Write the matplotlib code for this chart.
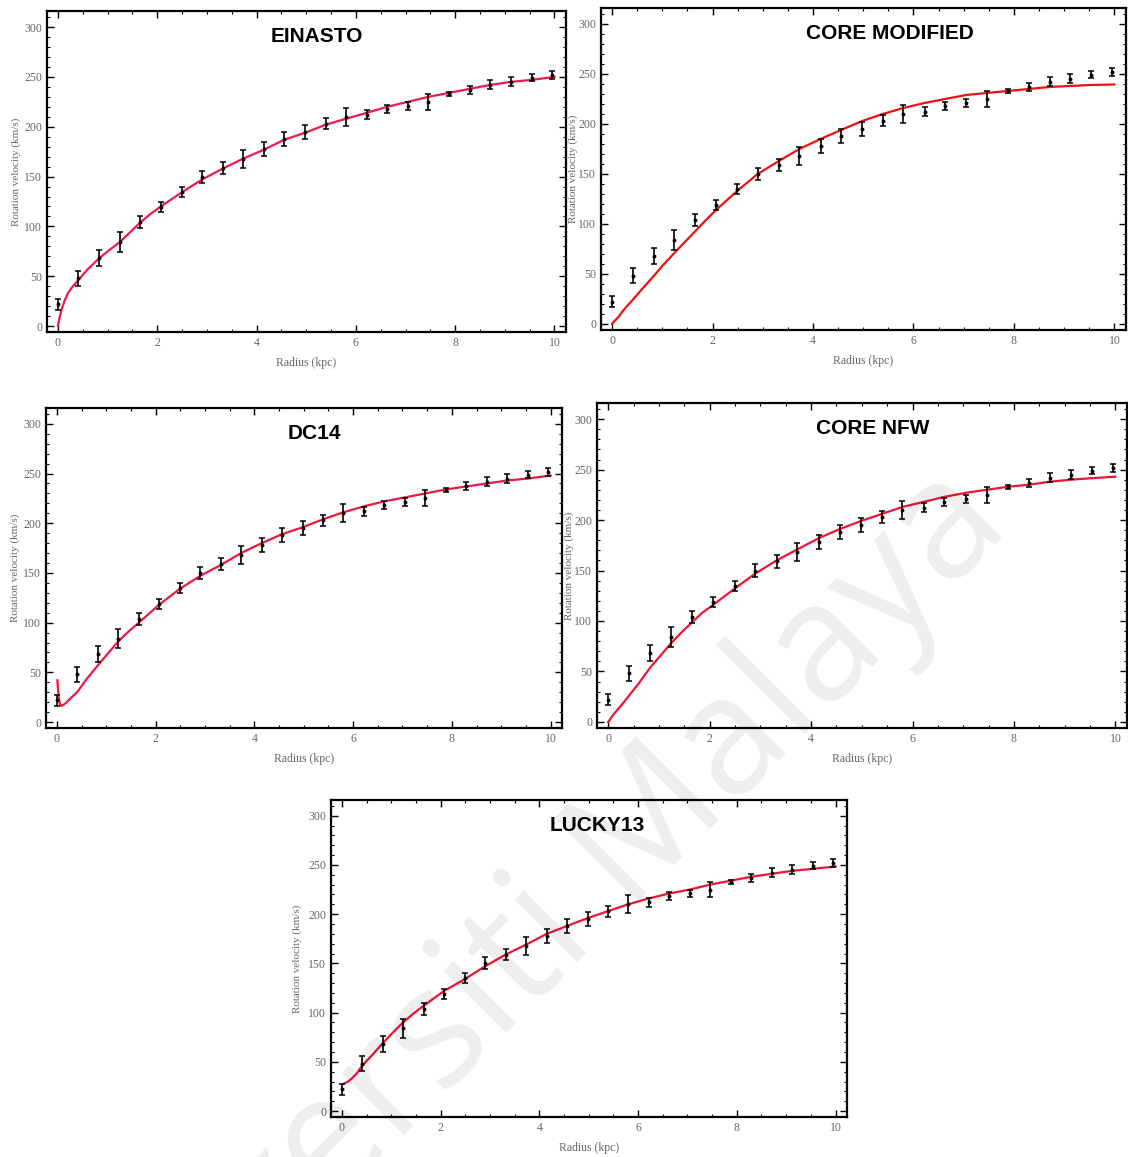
import matplotlib.pyplot as plt
from matplotlib.ticker import MultipleLocator

# Observed rotation curve (same for every panel)
RAYON = [0.0, 0.41, 0.83, 1.24, 1.66, 2.07, 2.49, 2.90, 3.32, 3.73, 4.15, 4.56, 4.98,
         5.39, 5.80, 6.22, 6.63, 7.05, 7.46, 7.88, 8.29, 8.71, 9.12, 9.54, 9.95]
VITESSE = [22, 48, 68, 84, 104, 119, 135, 150, 159, 168, 178, 188, 195,
           203, 210, 212, 218, 221, 225, 233, 237, 242, 245, 249, 252]
ERREUR = [5.5, 7.5, 8, 10, 6, 5, 5, 6, 6, 9, 7, 7, 7,
          5.5, 9, 4.5, 4, 4, 8, 2, 4, 4.5, 4.5, 3.5, 4]

# Best-fit model curves, sampled along the radius
FIT_X = [0.0, 0.03, 0.07, 0.13, 0.2, 0.3, 0.41, 0.6, 0.83, 1.0, 1.24, 1.45, 1.66, 1.85,
         2.07, 2.49, 2.90, 3.32, 3.73, 4.15, 4.56, 4.98, 5.39, 5.80, 6.22, 6.63,
         7.05, 7.46, 7.88, 8.29, 8.71, 9.12, 9.54, 10.0]
EINASTO = [0, 8, 16, 25, 33, 40, 46, 57, 68, 75, 84, 94, 104, 112,
           120, 134, 147, 158, 168, 177, 187, 194, 202, 208, 214, 220,
           225, 230, 234, 238, 242, 245, 247, 250]
CORE_MOD = [0, 2, 4, 7, 12, 18, 24, 35, 48, 58, 71, 82, 93, 103,
            114, 133, 150, 163, 175, 185, 194, 203, 210, 216, 221, 225,
            229, 231, 233, 235, 237, 238, 239, 239.5]
DC14_X = [0.01, 0.02, 0.04, 0.06, 0.08, 0.1, 0.14, 0.2, 0.3, 0.41, 0.6, 0.83, 1.0, 1.24,
          1.45, 1.66, 2.07, 2.49, 2.90, 3.32, 3.73, 4.15, 4.56, 4.98, 5.39, 5.80,
          6.22, 6.63, 7.05, 7.46, 7.88, 8.29, 8.71, 9.12, 9.54, 10.0]
DC14 = [42, 35, 24, 18.5, 16.5, 16.5, 17.5, 20, 25, 30, 43, 57, 67, 81,
        91, 100, 118, 134, 147, 158, 170, 180, 189, 196, 204, 211,
        217, 222, 226, 230, 234, 237, 240, 243, 245, 248]
CORE_NFW = [0, 2, 5, 9, 13, 19, 26, 38, 54, 64, 78, 89, 99, 108,
            116, 132, 147, 160, 171, 182, 191, 199, 206, 213, 218, 223,
            227, 230, 233, 235, 238, 240, 241.5, 243]
LUCKY13 = [27, 27.5, 28.5, 30, 33, 38, 46, 56, 69, 78, 90, 99, 107, 114,
           122, 134, 147, 159, 169, 180, 188, 196, 203, 210, 216, 221,
           225, 230, 234, 238, 241, 244, 246, 248.5]

PANNEAUX = [
    # titre, x fit, y fit, couleur, position axes, position titre, recul ylabel (px)
    ("EINASTO", FIT_X, EINASTO, "#ee1a4e", [0.0417, 0.713, 0.460, 0.2774], 0.52, 31),
    ("CORE MODIFIED", FIT_X, CORE_MOD, "#f01010", [0.5328, 0.7148, 0.4654, 0.2783], 0.55, 28),
    ("DC14", DC14_X, DC14, "#f01840", [0.0408, 0.3708, 0.4574, 0.2766], 0.52, 31),
    ("CORE NFW", FIT_X, CORE_NFW, "#f01434", [0.5293, 0.3708, 0.4699, 0.2809], 0.52, 28),
    ("LUCKY13", FIT_X, LUCKY13, "#f01434", [0.2934, 0.0346, 0.4574, 0.2740], 0.517, 34),
]

SERIF = ["Liberation Serif", "DejaVu Serif"]
GRIS = "#666666"
LARGEUR_PX = 1128


def panneau(fig, titre, fx, fy, couleur, rect, tx, recul):
    ax = fig.add_axes(rect)
    ax.plot(fx, fy, color=couleur, lw=1.6, zorder=2)
    ax.errorbar(RAYON, VITESSE, yerr=ERREUR, fmt="o", ms=1.8, color="black",
                ecolor="black", elinewidth=1.2, capsize=2, capthick=1.1, zorder=3)

    ax.set_xlim(-0.22, 10.23)
    ax.set_ylim(-6, 316)
    ax.xaxis.set_major_locator(MultipleLocator(2))
    ax.xaxis.set_minor_locator(MultipleLocator(0.5))
    ax.yaxis.set_major_locator(MultipleLocator(50))
    ax.yaxis.set_minor_locator(MultipleLocator(10))
    ax.tick_params(which="both", direction="in", top=True, right=True,
                   colors="black", labelcolor=GRIS, labelsize=8.5)
    ax.tick_params(which="major", length=5, width=1)
    ax.tick_params(which="minor", length=2.5, width=0.8)
    for lab in ax.get_xticklabels() + ax.get_yticklabels():
        lab.set_family(SERIF)
    for sp in ax.spines.values():
        sp.set_linewidth(1.6)

    ax.set_xlabel("Radius (kpc)", family=SERIF, fontsize=8.5, color=GRIS, labelpad=6)
    ax.set_ylabel("Rotation velocity (km/s)", family=SERIF, fontsize=8, color=GRIS,
                  va="center")
    ax.yaxis.set_label_coords(-recul / (rect[2] * LARGEUR_PX), 0.5)
    ax.text(tx, 0.92, titre, transform=ax.transAxes, ha="center", va="center",
            fontsize=15, fontweight="bold", family=["Liberation Sans", "DejaVu Sans"])
    return ax


def main():
    fig = plt.figure(figsize=(11.28, 11.57), dpi=100)

    for titre, fx, fy, couleur, rect, tx, recul in PANNEAUX:
        panneau(fig, titre, fx, fy, couleur, rect, tx, recul)

    # filigrane
    fig.text(0.46, 0.17, "Universiti Malaya", rotation=45, rotation_mode="anchor",
             ha="center", va="center", fontsize=118, color="black", alpha=0.07,
             family=["Open Sans", "DejaVu Sans"], zorder=10)

    fig.savefig("out.png", dpi=100)


if __name__ == "__main__":
    main()
